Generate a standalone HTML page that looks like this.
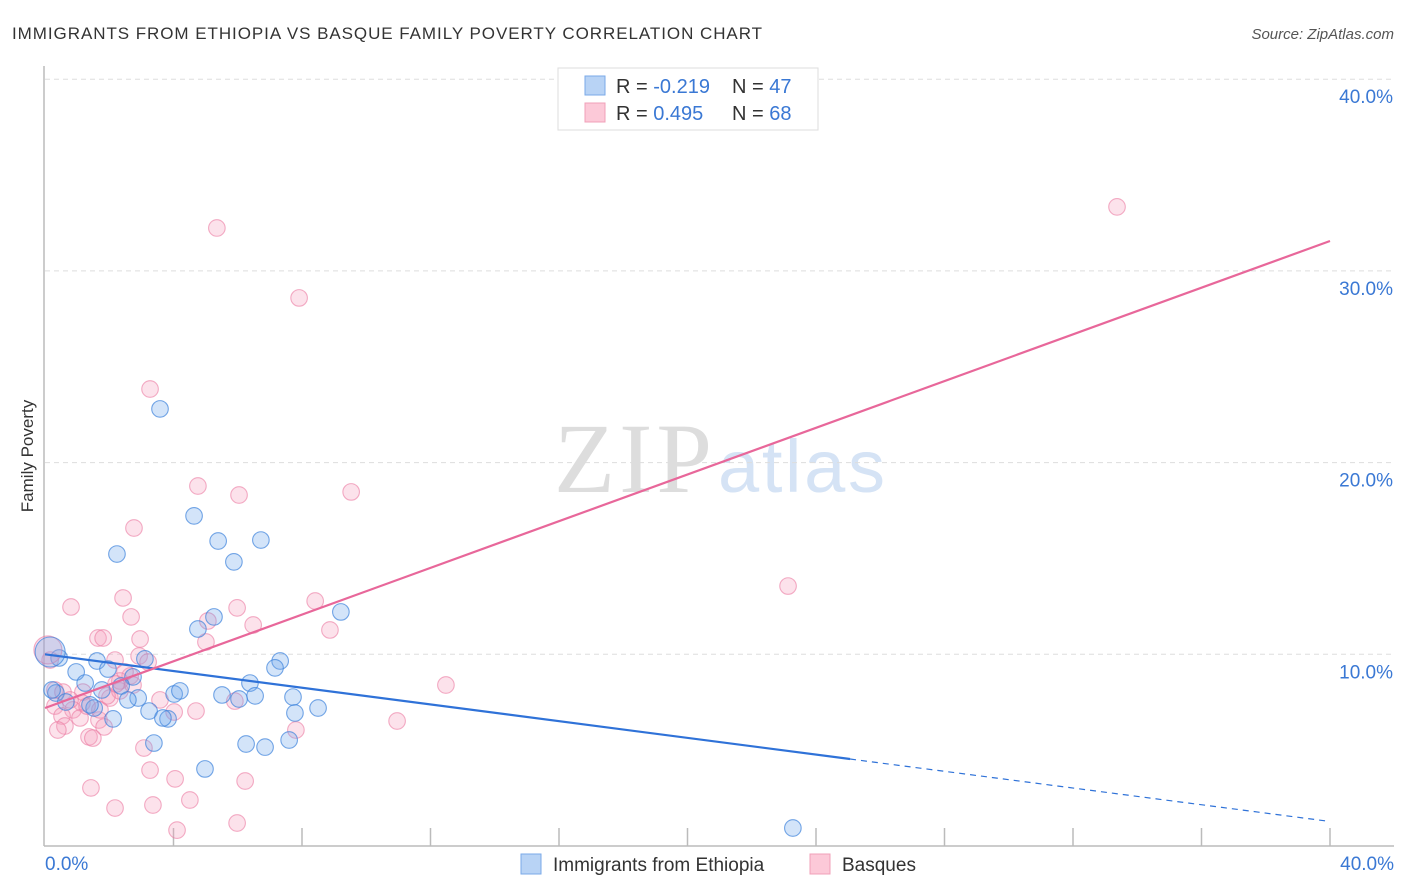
<!DOCTYPE html>
<html><head><meta charset="utf-8"><style>
body{margin:0;background:#fff;font-family:"Liberation Sans",sans-serif;}
#wrap{position:relative;width:1406px;height:892px;overflow:hidden;}
</style></head><body><div id="wrap">
<svg id="svg" width="1406" height="892" xmlns="http://www.w3.org/2000/svg">
<text x="12" y="39" font-size="17" fill="#333" textLength="750" lengthAdjust="spacing">IMMIGRANTS FROM ETHIOPIA VS BASQUE FAMILY POVERTY CORRELATION CHART</text>
<text x="1394" y="39" font-size="15" fill="#555" font-style="italic" text-anchor="end">Source: ZipAtlas.com</text>
<text x="33" y="456" font-size="17" fill="#333" text-anchor="middle" transform="rotate(-90 33 456)">Family Poverty</text>
<text x="554" y="492" font-size="100" fill="#ddd" font-family="Liberation Serif,serif" textLength="158">ZIP</text>
<text x="718" y="492" font-size="74" fill="#d5e3f5" textLength="167">atlas</text>
<g id="grid"></g><g id="pts"></g><g id="lines"></g>
<g>
<rect x="558" y="68" width="260" height="62" fill="#fff" stroke="#ddd"/>
<rect x="585" y="76" width="20" height="19" fill="#b8d3f5" stroke="#7aa9e8"/>
<rect x="585" y="103" width="20" height="19" fill="#fcc9d8" stroke="#f0a0b8"/>
<text x="616" y="93" font-size="20" fill="#333">R = <tspan fill="#3a78d4">-0.219</tspan></text>
<text x="732" y="93" font-size="20" fill="#333">N = <tspan fill="#3a78d4">47</tspan></text>
<text x="616" y="120" font-size="20" fill="#333">R = <tspan fill="#3a78d4"> 0.495</tspan></text>
<text x="732" y="120" font-size="20" fill="#333">N = <tspan fill="#3a78d4">68</tspan></text>
</g>
<g>
<rect x="521" y="854" width="20" height="20" fill="#b8d3f5" stroke="#7aa9e8"/>
<text x="553" y="871" font-size="19" fill="#333">Immigrants from Ethiopia</text>
<rect x="810" y="854" width="20" height="20" fill="#fcc9d8" stroke="#f0a0b8"/>
<text x="842" y="871" font-size="19" fill="#333">Basques</text>
</g>
</svg></div>
<script>
const yTicks=[10,20,30,40];
const xTickLabels=["0.0%","40.0%"];
const blueX=[3.58,4.64,2.24,5.39,6.72,5.88,9.21,5.26,4.76,3.11,1.62,7.32,7.16,0.97,1.96,1.25,2.74,2.37,6.38,1.77,4.02,4.20,2.90,2.58,5.51,6.54,6.04,7.72,0.34,0.65,1.53,3.24,8.50,7.78,3.83,3.67,2.12,3.39,6.26,6.85,7.60,4.98,23.28,0.44,0.22,1.40];
const blueY=[22.80,17.22,15.23,15.91,15.96,14.82,12.21,11.95,11.32,9.76,9.65,9.65,9.29,9.08,9.23,8.50,8.82,8.35,8.50,8.14,7.93,8.09,7.72,7.62,7.88,7.83,7.67,7.77,7.98,7.51,7.20,7.04,7.20,6.94,6.63,6.68,6.63,5.37,5.32,5.16,5.53,4.02,0.94,9.81,8.14,7.36];
const pinkX=[5.35,7.91,33.37,3.27,4.76,6.04,9.53,2.77,2.43,0.81,5.98,2.68,8.41,6.48,8.87,5.07,1.65,1.81,2.96,5.01,23.13,12.48,10.96,2.93,2.18,2.65,2.33,0.31,0.56,1.18,2.02,5.91,4.70,4.02,1.15,0.87,0.31,0.53,1.09,0.62,1.68,1.84,1.37,1.49,7.81,0.40,3.08,4.05,6.23,3.27,1.43,4.51,3.36,2.18,4.11,5.98,0.16,1.31,2.33,2.74,1.93,2.21,3.58,2.49,3.21,1.71,0.78];
const pinkY=[32.24,28.59,33.34,23.84,18.78,18.31,18.47,16.59,12.94,12.47,12.42,11.95,12.78,11.53,11.27,11.74,10.85,10.85,10.80,10.64,13.56,8.40,6.52,9.91,9.70,8.87,8.61,8.14,8.03,8.03,7.72,7.56,7.04,6.99,7.46,7.10,7.30,6.78,6.68,6.26,6.57,6.21,5.69,5.63,6.05,6.05,5.11,3.50,3.39,3.96,3.03,2.40,2.14,1.98,0.83,1.20,9.70,7.30,8.09,8.40,7.83,8.45,7.62,9.08,9.60,7.10,7.62];
const bigBlue=[0.16,10.12];
const bigPink=[0.09,10.23];
const blueTrend=[10.0,-0.218];
const pinkTrend=[7.2,0.609];
const NS="http://www.w3.org/2000/svg";
const X=v=>45+v/40*1285, Y=v=>846-v*19.17;
function mk(t,a,p){const e=document.createElementNS(NS,t);for(const k in a)e.setAttribute(k,a[k]);p.appendChild(e);return e;}
const grid=document.getElementById('grid'),pts=document.getElementById('pts'),lines=document.getElementById('lines');
yTicks.forEach(t=>{
 const l=mk('line',{x1:45,x2:1394,y1:Y(t),y2:Y(t),stroke:'#ddd','stroke-dasharray':'5,4'},grid);
 
 
 const tx=mk('text',{x:1393,y:Y(t)+24,'font-size':19,fill:'#3a78d4','text-anchor':'end'},grid);tx.textContent=t.toFixed(1)+'%';
 
 
});
const ax=mk('line',{x1:44,x2:44,y1:66,y2:846,stroke:'#bbb','stroke-width':1.5},grid);


const bx=mk('line',{x1:44,x2:1394,y1:846,y2:846,stroke:'#bbb','stroke-width':1.5},grid);


for(let i=1;i<=10;i++){const t=mk('line',{x1:X(i*4),x2:X(i*4),y1:828,y2:846,stroke:'#bbb','stroke-width':1.5},grid);
 
 }
const xl0=mk('text',{x:45,y:870,'font-size':19,fill:'#3a78d4'},grid);xl0.textContent=xTickLabels[0];


const xl1=mk('text',{x:1394,y:870,'font-size':19,fill:'#3a78d4','text-anchor':'end'},grid);xl1.textContent=xTickLabels[1];


function dot(x,y,r,fill,stroke,name){const c=mk('circle',{cx:X(x),cy:Y(y),r:r,fill:fill,stroke:stroke,'stroke-width':1.1},pts);
 
 }
pinkX.forEach((x,i)=>dot(x,pinkY[i],8.3,'rgba(244,160,188,0.3)','rgba(235,120,160,0.6)','basques-point'));
blueX.forEach((x,i)=>dot(x,blueY[i],8.3,'rgba(110,165,235,0.3)','rgba(60,130,220,0.7)','ethiopia-point'));
dot(bigPink[0],bigPink[1],14,'rgba(244,160,188,0.3)','rgba(235,120,160,0.6)','basques-point-large');
dot(bigBlue[0],bigBlue[1],15,'rgba(110,165,235,0.3)','rgba(60,130,220,0.7)','ethiopia-point-large');
const bl=v=>blueTrend[0]+blueTrend[1]*v, pl=v=>pinkTrend[0]+pinkTrend[1]*v;
const l1=mk('line',{x1:X(0),y1:Y(bl(0)),x2:X(25.06),y2:Y(bl(25.06)),stroke:'#2f72d8','stroke-width':2.2},lines);


const l2=mk('line',{x1:X(25.06),y1:Y(bl(25.06)),x2:X(40),y2:Y(bl(40)),stroke:'#2f72d8','stroke-width':1.2,'stroke-dasharray':'6,5'},lines);


const l3=mk('line',{x1:X(0),y1:Y(pl(0)),x2:X(40),y2:Y(pl(40)),stroke:'#e8679a','stroke-width':2.2},lines);


</script></body></html>
